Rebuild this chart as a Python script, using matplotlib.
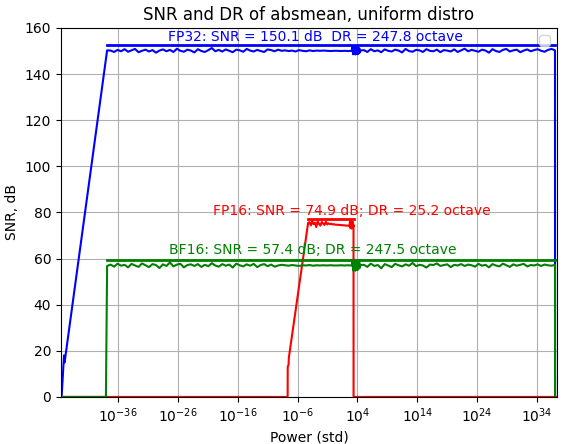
import numpy as np
import matplotlib
matplotlib.use("Agg")
import matplotlib.pyplot as plt

# log10(std) breakpoints and SNR values
fp32_ramp_exp = [-45.4, -45.0, -44.9, -37.8]
fp32_ramp_snr = [0, 18, 15, 150.3]
fp32_flat_a = [150.2, 149.6, 150.5, 149.9, 150.8, 149.7, 150.3, 150.9, 149.5, 150.1,
               150.6, 149.8, 150.4, 149.3, 150.2, 150.7, 149.9, 150.5, 149.6, 151.0,
               150.1, 149.7, 150.6, 150.2, 149.4, 150.8, 150.0, 149.6, 150.4, 151.3,
               149.9, 150.5, 149.8, 150.7, 150.1, 149.5, 150.6, 150.3, 149.7, 150.9,
               150.2, 149.8, 150.5, 150.0, 149.6, 150.7, 150.4, 149.9, 150.6, 150.1,
               150.3, 150.0, 150.2, 149.8, 150.4, 150.1, 149.9, 150.3, 150.0, 150.2,
               150.1, 150.2, 150.1, 150.0, 150.1, 150.1, 150.0, 150.1, 150.0, 150.1]
fp32_blob = [150.0, 151.8, 148.6, 151.5, 148.9, 151.9, 148.5, 151.6, 148.8, 151.7,
             148.6, 151.4, 149.0, 151.2, 149.4, 150.2]
fp32_flat_b = [150.4, 149.6, 150.8, 149.9, 150.3, 149.5, 150.7, 150.1, 149.8, 150.6,
               150.2, 149.4, 150.9, 150.0, 149.7, 150.5, 150.3, 149.6, 150.8, 150.1,
               149.9, 150.6, 149.5, 150.4, 150.2, 149.8, 150.7, 149.6, 150.3, 151.0,
               149.9, 150.5, 150.1, 149.7, 150.6, 150.2, 149.3, 150.8, 150.0, 149.6,
               150.5, 150.9, 149.8, 150.3, 150.6, 149.5, 150.2, 150.7, 149.9, 150.4,
               150.8, 150.1, 149.7, 150.5, 150.9, 150.3]
fp32_line = 152.4

fp16_ramp_exp = [-45.4, -7.65, -7.64, -7.5, -7.45, -4.23]
fp16_ramp_snr = [0, 0, 13, 14, 17, 75.5]
fp16_flat = [75.8, 74.4, 76.4, 74.9, 75.6, 73.7, 76.2, 75.0, 74.3, 75.9,
             75.2, 74.6, 76.0, 74.8, 75.3, 74.9, 75.1, 74.8, 74.9, 74.7,
             74.7, 74.6, 74.6, 74.5, 74.5, 74.4, 74.4, 74.3, 74.3, 74.2]
fp16_blob = [74.0, 76.0, 73.2, 76.3, 73.0, 76.1, 73.4, 75.9, 74.0]
fp16_tail_exp = [3.35, 3.36, 37.3]
fp16_tail_snr = [74.5, 0, 0]
fp16_line = 77.2

bf16_ramp_exp = [-45.4, -38.0, -37.8]
bf16_ramp_snr = [0, 0, 56.8]
bf16_flat_a = [57.4, 56.5, 57.8, 56.9, 57.3, 56.2, 57.7, 57.0, 56.4, 57.9,
               57.1, 56.3, 57.6, 57.2, 55.9, 57.5, 56.8, 58.3, 56.6, 57.4,
               57.7, 56.2, 57.2, 57.5, 56.8, 57.6, 56.4, 57.3, 56.7, 58.0,
               57.0, 56.5, 57.6, 56.9, 57.4, 56.1, 57.8, 57.1, 56.6, 57.5,
               56.9, 57.7, 56.3, 57.2, 57.6, 56.7, 57.4, 56.5, 57.0, 57.3,
               57.1, 56.9, 57.2, 57.0, 56.8, 57.1, 57.0, 57.2, 56.9, 57.1,
               57.0, 57.1, 57.0, 57.1, 57.0, 57.0, 57.1, 57.0, 57.1, 57.0]
bf16_blob = [57.0, 59.2, 54.8, 59.5, 55.0, 59.3, 54.7, 59.0, 55.2, 59.4,
             55.0, 58.8, 55.6, 58.4, 56.0, 57.2]
bf16_flat_b = [57.3, 56.4, 57.8, 56.8, 57.2, 55.8, 57.6, 57.0, 56.3, 57.7,
               57.1, 56.6, 57.5, 56.9, 58.1, 56.7, 57.3, 57.0, 56.1, 57.4,
               57.2, 57.9, 56.8, 57.2, 57.5, 56.3, 57.3, 57.0, 57.6, 56.8,
               57.4, 57.1, 56.5, 57.7, 56.9, 57.3, 56.2, 57.6, 57.0, 56.6,
               57.8, 57.1, 56.4, 57.5, 56.9, 57.3, 57.7, 56.6, 57.2, 57.0,
               57.5, 56.8, 57.4, 57.1, 56.9, 57.3]
bf16_line = 59.4

flat_start, blob_start, blob_end, top_end = -37.8, 3.0, 4.5, 37.0
fp16_start, fp16_blob_start, fp16_end = -4.23, 2.6, 3.35


def build(ramp_exp, ramp_snr, segments, tail_exp, tail_snr):
    exps = list(ramp_exp)
    snrs = list(ramp_snr)
    for lo, hi, vals in segments:
        exps += list(np.linspace(lo, hi, len(vals) + 1)[1:])
        snrs += list(vals)
    exps += list(tail_exp)
    snrs += list(tail_snr)
    return 10.0 ** np.array(exps), np.array(snrs)


x32, y32 = build(fp32_ramp_exp, fp32_ramp_snr,
                 [(flat_start, blob_start, fp32_flat_a), (blob_start, blob_end, fp32_blob),
                  (blob_end, top_end, fp32_flat_b)], [top_end, top_end + 0.01], [150.0, 0])
x16, y16 = build(fp16_ramp_exp, fp16_ramp_snr,
                 [(fp16_start, fp16_blob_start, fp16_flat), (fp16_blob_start, fp16_end - 0.02, fp16_blob)],
                 fp16_tail_exp, fp16_tail_snr)
xbf, ybf = build(bf16_ramp_exp, bf16_ramp_snr,
                 [(flat_start, blob_start, bf16_flat_a), (blob_start, blob_end, bf16_blob),
                  (blob_end, top_end, bf16_flat_b)], [top_end, top_end + 0.01], [57.0, 0])

fig = plt.figure(figsize=(5.67, 4.44), dpi=100)
ax = fig.add_subplot(111)
fig.subplots_adjust(left=0.1076, right=0.982, top=0.937, bottom=0.106)

ax.plot(x32, y32, color='blue', lw=1.5)
ax.plot([10 ** flat_start, 10 ** top_end], [fp32_line, fp32_line], color='blue', lw=2)
ax.plot(x16, y16, color='red', lw=1.5)
ax.plot([10 ** fp16_start, 10 ** fp16_end], [fp16_line, fp16_line], color='red', lw=2)
ax.plot(xbf, ybf, color='green', lw=1.5)
ax.plot([10 ** flat_start, 10 ** top_end], [bf16_line, bf16_line], color='green', lw=2)

ax.text(10 ** -2.95, 156.2, 'FP32: SNR = 150.1 dB  DR = 247.8 octave', color='blue',
        ha='center', va='center', fontsize=10)
ax.text(10 ** 3.13, 80.7, 'FP16: SNR = 74.9 dB; DR = 25.2 octave', color='red',
        ha='center', va='center', fontsize=10)
ax.text(10 ** -3.4, 63.7, 'BF16: SNR = 57.4 dB; DR = 247.5 octave', color='green',
        ha='center', va='center', fontsize=10)

ax.set_xscale('log')
ax.set_xlim(10 ** -45.5, 10 ** 37.3)
ax.set_ylim(0, 160)
ax.set_xticks([10.0 ** e for e in range(-36, 35, 10)])
ax.xaxis.set_minor_locator(matplotlib.ticker.NullLocator())
ax.grid(True)
ax.legend(loc='upper right')
ax.set_title('SNR and DR of absmean, uniform distro')
ax.set_xlabel('Power (std)')
ax.set_ylabel('SNR, dB')
fig.savefig('out.png', dpi=100)
